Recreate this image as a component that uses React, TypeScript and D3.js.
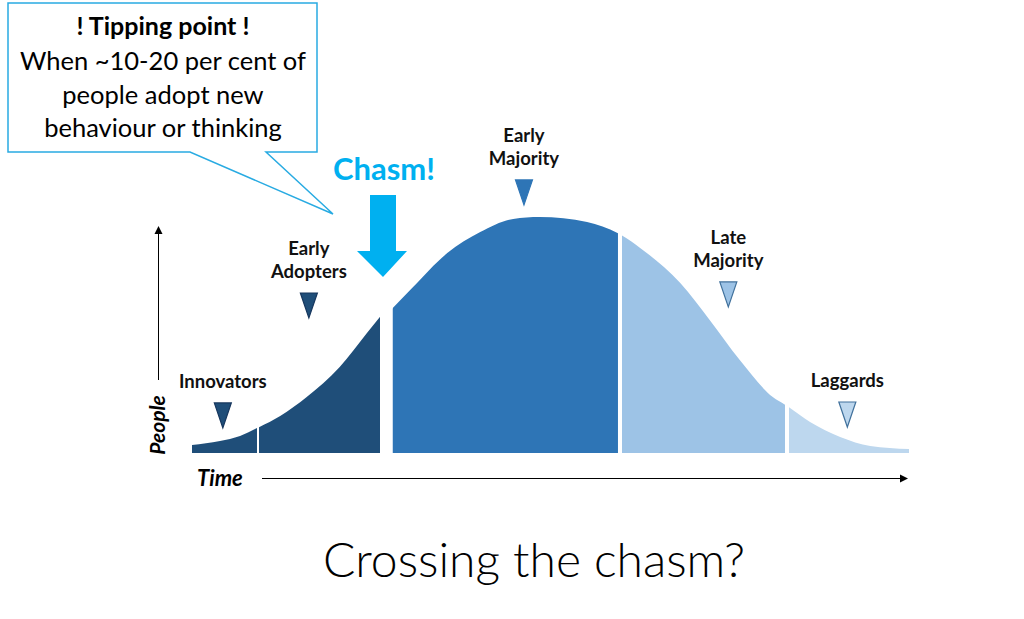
import React from "react";
import * as d3 from "d3";

// curve: time (0-100) vs people (0-100, peak = 100)
// the curve is drawn in two pieces, one each side of the chasm
const leftTime = [0, 3.9, 6.7, 9.1, 12.3, 16.0, 20.6, 24.4, 26.2, 28.2];
const leftPeople = [3.4, 5.1, 7.2, 10.6, 15.7, 23.7, 36.4, 50.8, 57.6, 65.1];
const rightTime = [26.2, 28.0, 30.7, 35.6, 40.2, 44.8, 48.5, 55.1, 59.6, 62.5, 68.1, 72.2, 76.4, 81.0, 83.0, 86.2, 90.4, 94.6, 100];
const rightPeople = [55.7, 61.4, 69.9, 84.7, 93.6, 99.2, 100, 97.9, 92.8, 86.9, 72.0, 56.4, 39.4, 23.7, 19.9, 13.1, 6.8, 3.0, 1.7];

const groups = ["Innovators", "Early Adopters", "Early Majority", "Late Majority", "Laggards"];
const groupStart = [0, 9.34, 28.0, 59.97, 83.26];
const groupEnd = [9.07, 26.22, 59.41, 82.71, 100];
const groupSide = ["left", "left", "right", "right", "right"];
const groupColor = ["#1f4e79", "#1f4e79", "#2e75b6", "#9dc3e6", "#bdd7ee"];
const markerStroke = ["#17375e", "#17375e", "#2e75b6", "#41719c", "#41719c"];
// label / marker anchor in data units
const labelTime = [4.3, 16.3, 46.3, 74.8, 91.4];
const labelLevel = [21.2, 67.8, 115.7, 72.5, 21.6];
const labelLines = [["Innovators"], ["Early", "Adopters"], ["Early", "Majority"], ["Late", "Majority"], ["Laggards"]];

const calloutTitle = "! Tipping point !";
const calloutLines = ["When ~10-20 per cent of", "people adopt new", "behaviour or thinking"];

const W = 1024;
const H = 619;
const font = "Lato, 'Open Sans', sans-serif";

export default function App() {
  const x = d3.scaleLinear().domain([0, 100]).range([192, 909]);
  const y = d3.scaleLinear().domain([0, 100]).range([453, 217]);

  const area = d3
    .area<[number, number]>()
    .x((d) => x(d[0]))
    .y0(y(0))
    .y1((d) => y(d[1]))
    .curve(d3.curveMonotoneX);
  const paths: Record<string, string> = {
    left: area(leftTime.map((t, i) => [t, leftPeople[i]] as [number, number])) || "",
    right: area(rightTime.map((t, i) => [t, rightPeople[i]] as [number, number])) || "",
  };

  return (
    <svg width={W} height={H} style={{ position: "absolute", left: 0, top: 0, background: "#fff" }}>
      <defs>
        {groups.map((g, i) => (
          <clipPath id={`seg${i}`} key={g}>
            <rect x={x(groupStart[i])} y={0} width={x(groupEnd[i]) - x(groupStart[i])} height={y(0)} />
          </clipPath>
        ))}
      </defs>

      {/* callout */}
      <path
        d="M8,3 H317 V152 H266 L333,214 L190,152 H8 Z"
        fill="#fff"
        stroke="#29abe2"
        strokeWidth={1.5}
      />
      <text x={163} y={35} textAnchor="middle" fontFamily={font} fontWeight={700} fontSize={25} fill="#000">
        {calloutTitle}
      </text>
      {calloutLines.map((l, i) => (
        <text key={l} x={163} y={70 + i * 33.5} textAnchor="middle" fontFamily={font} fontSize={25.5} fill="#000">
          {l}
        </text>
      ))}

      {/* segments */}
      {groups.map((g, i) => (
        <path key={g} d={paths[groupSide[i]]} fill={groupColor[i]} clipPath={`url(#seg${i})`} />
      ))}

      {/* chasm arrow */}
      <text x={384} y={180} textAnchor="middle" fontFamily={font} fontWeight={700} fontSize={31} fill="#00b0f0">
        Chasm!
      </text>
      <path d="M370,195 H396 V251 H407 L383,277 L357,251 H370 Z" fill="#00b0f0" />

      {/* markers and labels */}
      {groups.map((g, i) => {
        const cx = x(labelTime[i]);
        const ty = y(labelLevel[i]);
        const lines = labelLines[i];
        return (
          <g key={g}>
            <path
              d={`M${cx - 8.5},${ty} H${cx + 8.5} L${cx},${ty + 25} Z`}
              fill={groupColor[i]}
              stroke={markerStroke[i]}
              strokeWidth={1.2}
            />
            {lines.map((l, j) => (
              <text
                key={l}
                x={cx}
                y={ty - 15 - (lines.length - 1 - j) * 23}
                textAnchor="middle"
                fontFamily={font}
                fontWeight={700}
                fontSize={18.5}
                fill="#111"
              >
                {l}
              </text>
            ))}
          </g>
        );
      })}

      {/* axes */}
      <line x1={158.5} y1={380} x2={158.5} y2={232} stroke="#000" strokeWidth={1} />
      <path d="M154.5,234 L158.5,226 L162.5,234 Z" fill="#000" />
      <line x1={262} y1={478.5} x2={902} y2={478.5} stroke="#000" strokeWidth={1} />
      <path d="M900,474.5 L908,478.5 L900,482.5 Z" fill="#000" />
      <text
        transform="translate(165,425) rotate(-90)"
        textAnchor="middle"
        fontFamily={font}
        fontWeight={700}
        fontStyle="italic"
        fontSize={21}
        fill="#000"
      >
        People
      </text>
      <text x={197} y={486} fontFamily={font} fontWeight={700} fontStyle="italic" fontSize={22} fill="#000">
        Time
      </text>

      {/* title */}
      <text x={534} y={577} textAnchor="middle" fontFamily={font} fontWeight={300} fontSize={48} fill="#000">
        Crossing the chasm?
      </text>
    </svg>
  );
}
